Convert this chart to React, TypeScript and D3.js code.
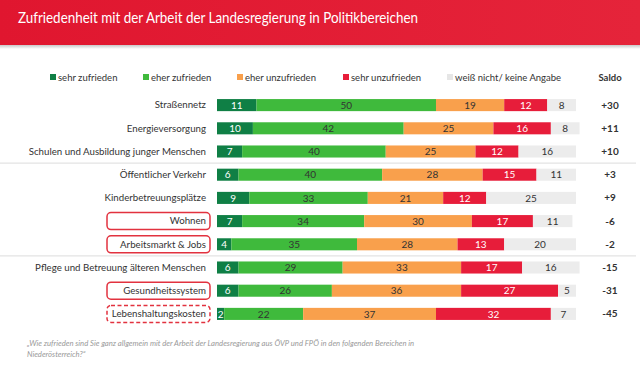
import React from 'react';
import * as d3 from 'd3';

const categories = [
  'Straßennetz',
  'Energieversorgung',
  'Schulen und Ausbildung junger Menschen',
  'Öffentlicher Verkehr',
  'Kinderbetreuungsplätze',
  'Wohnen',
  'Arbeitsmarkt & Jobs',
  'Pflege und Betreuung älteren Menschen',
  'Gesundheitssystem',
  'Lebenshaltungskosten',
];
const seriesNames = ['sehr zufrieden', 'eher zufrieden', 'eher unzufrieden', 'sehr unzufrieden', 'weiß nicht/ keine Angabe'];
const sehrZufrieden = [11, 10, 7, 6, 9, 7, 4, 6, 6, 2];
const eherZufrieden = [50, 42, 40, 40, 33, 34, 35, 29, 26, 22];
const eherUnzufrieden = [19, 25, 25, 28, 21, 30, 28, 33, 36, 37];
const sehrUnzufrieden = [12, 16, 12, 15, 12, 17, 13, 17, 27, 32];
const weissNicht = [8, 8, 16, 11, 25, 11, 20, 16, 5, 7];
const saldo = ['+30', '+11', '+10', '+3', '+9', '-6', '-2', '-15', '-31', '-45'];
const highlighted = ['Wohnen', 'Arbeitsmarkt & Jobs', 'Gesundheitssystem'];
const dashed = ['Lebenshaltungskosten'];
const separatorsAfter = ['Schulen und Ausbildung junger Menschen', 'Arbeitsmarkt & Jobs'];

const colors = ['#0f7f45', '#3fba3c', '#f9a04c', '#e71d3a', '#ececec'];
const textColors = ['#ffffff', '#333333', '#333333', '#ffffff', '#333333'];
const font = 'Lato, "Open Sans", sans-serif';

export default function App() {
  const width = 640;
  const height = 370;
  const values = [sehrZufrieden, eherZufrieden, eherUnzufrieden, sehrUnzufrieden, weissNicht];
  const rows = categories.map((c, i) => {
    const r: any = { cat: c };
    seriesNames.forEach((s, k) => (r[s] = values[k][i]));
    return r;
  });
  const stack = d3.stack<any>().keys(seriesNames)(rows);

  const x = d3.scaleLinear().domain([0, 100]).range([217, 576]);
  const y = d3.scaleBand().domain(categories).range([93.5, 325.5]).paddingInner(0.48).paddingOuter(0.24);
  const cy = (c: string) => (y(c) as number) + y.bandwidth() / 2;

  const legendX = [50, 143, 237, 343, 447];

  return (
    <svg width={width} height={height} style={{ position: 'absolute', left: 0, top: 0, background: '#fff' }} fontFamily={font}>
      <defs>
        <linearGradient id="hdr" x1="0" x2="1" y1="0" y2="0">
          <stop offset="0" stopColor="#e0162f" />
          <stop offset="1" stopColor="#e5243a" />
        </linearGradient>
        <linearGradient id="shadow" x1="0" x2="0" y1="0" y2="1">
          <stop offset="0" stopColor="#c8c8c8" />
          <stop offset="1" stopColor="#fff" />
        </linearGradient>
      </defs>
      <rect x={0} y={0} width={width} height={45} fill="url(#hdr)" />
      <rect x={0} y={45} width={width} height={4} fill="url(#shadow)" />
      <text x={18} y={23} fill="#fff" fontSize={15} textLength={400} lengthAdjust="spacingAndGlyphs">
        Zufriedenheit mit der Arbeit der Landesregierung in Politikbereichen
      </text>

      {seriesNames.map((s, k) => (
        <g key={s}>
          <rect x={legendX[k]} y={74} width={6} height={6} fill={k === 4 ? '#e6e6e6' : colors[k]} />
          <text x={legendX[k] + 8} y={80.5} fontSize={9.5} fill="#333">{s}</text>
        </g>
      ))}
      <text x={610} y={80.5} fontSize={9.5} fontWeight="bold" fill="#333" textAnchor="middle">Saldo</text>

      {separatorsAfter.map((c) => {
        const i = categories.indexOf(c);
        const yy = (cy(categories[i]) + cy(categories[i + 1])) / 2;
        return <line key={c} x1={0} x2={636} y1={yy} y2={yy} stroke="#dcdcdc" strokeWidth={1} />;
      })}

      {categories.map((c) => {
        const isBox = highlighted.includes(c) || dashed.includes(c);
        return (
          <g key={c}>
            {isBox && (
              <rect x={107} y={cy(c) - 8.5} width={103} height={17} rx={4} fill="none" stroke="#e2323f" strokeWidth={1.5}
                strokeDasharray={dashed.includes(c) ? '4 2.5' : undefined} />
            )}
            <text x={206} y={cy(c)} dy="0.35em" textAnchor="end" fontSize={9.7} fill="#333">{c}</text>
          </g>
        );
      })}

      {stack.map((layer, k) => (
        <g key={layer.key}>
          {layer.map((d, i) => {
            const x0 = x(d[0]);
            const x1 = x(d[1]);
            const c = categories[i];
            return (
              <g key={c}>
                <rect x={x0} y={y(c)} width={x1 - x0} height={y.bandwidth()} fill={colors[k]} />
                <text x={(x0 + x1) / 2} y={cy(c)} dy="0.36em" textAnchor="middle" fontSize={10} fill={textColors[k]}>
                  {d[1] - d[0]}
                </text>
              </g>
            );
          })}
        </g>
      ))}

      {categories.map((c, i) => (
        <text key={c} x={610} y={cy(c)} dy="0.35em" textAnchor="middle" fontSize={10} fontWeight="bold" fill="#333">{saldo[i]}</text>
      ))}

      <text x={27} y={346} fontSize={7.7} fontStyle="italic" fill="#999">
        „Wie zufrieden sind Sie ganz allgemein mit der Arbeit der Landesregierung aus ÖVP und FPÖ in den folgenden Bereichen in
      </text>
      <text x={27} y={357} fontSize={7.7} fontStyle="italic" fill="#999">Niederösterreich?“</text>
    </svg>
  );
}
